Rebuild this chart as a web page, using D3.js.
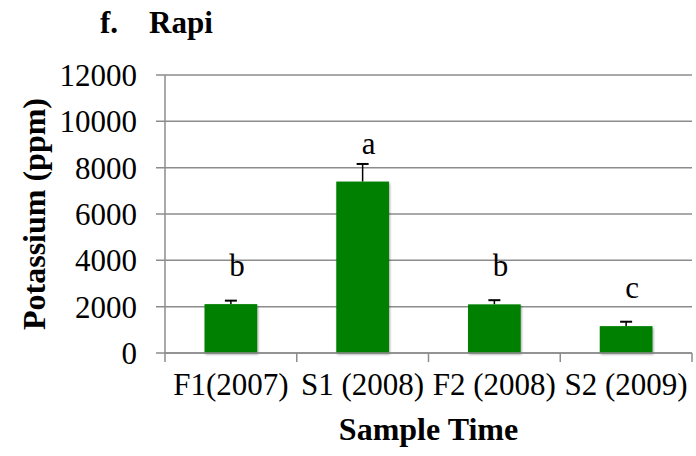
<!DOCTYPE html>
<html>
<head>
<meta charset="utf-8">
<script src="https://cdn.jsdelivr.net/npm/d3@7/dist/d3.min.js"></script>
<style>
  body { margin: 0; background: #fff; }
  text { font-family: 'Liberation Serif', 'Times New Roman', Times, 'DejaVu Serif', serif; }
</style>
</head>
<body>
<svg id="chart" width="696" height="456"></svg>
<script>
// chart data
const categories = ['F1(2007)', 'S1 (2008)', 'F2 (2008)', 'S2 (2009)'];
const potassium = [2110, 7400, 2100, 1160];
const errors = [150, 760, 180, 190];
const letters = ['b', 'a', 'b', 'c'];
const yTicks = [0, 2000, 4000, 6000, 8000, 10000, 12000];

const svg = d3.select('#chart');
const margin = { left: 165, right: 4, top: 75, bottom: 103 };
const width = 696 - margin.left - margin.right;
const height = 456 - margin.top - margin.bottom;
const gridColor = '#8c8c8c';
const serif = "'Liberation Serif', 'Times New Roman', Times, 'DejaVu Serif', serif";
const tickSize = 31;
const titleSize = 32;

const x = d3.scaleBand()
  .domain(categories)
  .range([0, width])
  .padding(0);

const y = d3.scaleLinear()
  .domain([0, 12000])
  .range([height, 0]);

// drop shadow like the office chart bars
const defs = svg.append('defs');
const shadow = defs.append('filter')
  .attr('id', 'shadow')
  .attr('x', '-10%').attr('y', '-10%')
  .attr('width', '130%').attr('height', '130%');
shadow.append('feDropShadow')
  .attr('dx', 1).attr('dy', 1.5)
  .attr('stdDeviation', 1.2)
  .attr('flood-color', '#000')
  .attr('flood-opacity', 0.35);

const g = svg.append('g')
  .attr('transform', `translate(${margin.left},${margin.top})`);

// gridlines
g.append('g')
  .selectAll('line')
  .data(yTicks)
  .join('line')
  .attr('x1', -9)
  .attr('x2', width)
  .attr('y1', d => y(d))
  .attr('y2', d => y(d))
  .attr('stroke', gridColor)
  .attr('stroke-width', 1.5);

// y axis line
g.append('line')
  .attr('x1', 0).attr('x2', 0)
  .attr('y1', 0).attr('y2', height)
  .attr('stroke', gridColor)
  .attr('stroke-width', 1.5);

// y tick labels
g.append('g')
  .selectAll('text')
  .data(yTicks)
  .join('text')
  .attr('x', -28)
  .attr('y', d => y(d))
  .attr('dy', '0.36em')
  .attr('text-anchor', 'end')
  .attr('font-family', serif)
  .attr('font-size', tickSize)
  .attr('fill', '#000')
  .text(d => d);

// x axis with ticks between categories
const xBounds = categories.map(c => x(c)).concat([width]);
g.append('g')
  .selectAll('line')
  .data(xBounds)
  .join('line')
  .attr('x1', d => d).attr('x2', d => d)
  .attr('y1', height).attr('y2', height + 9)
  .attr('stroke', gridColor)
  .attr('stroke-width', 1.5);

g.append('g')
  .selectAll('text')
  .data(categories)
  .join('text')
  .attr('x', d => x(d) + x.bandwidth() / 2)
  .attr('y', height + 42)
  .attr('text-anchor', 'middle')
  .attr('font-family', serif)
  .attr('font-size', tickSize)
  .attr('fill', '#000')
  .text(d => d);

// bars
const barWidth = x.bandwidth() * 0.4;
const rows = categories.map((c, i) => ({
  cat: c, value: potassium[i], err: errors[i], letter: letters[i],
}));

// error bars (upper half only, drawn before bars)
const errG = g.append('g')
  .selectAll('g')
  .data(rows)
  .join('g');
errG.append('line')
  .attr('x1', d => x(d.cat) + x.bandwidth() / 2)
  .attr('x2', d => x(d.cat) + x.bandwidth() / 2)
  .attr('y1', d => y(d.value))
  .attr('y2', d => y(d.value + d.err))
  .attr('stroke', '#000')
  .attr('stroke-width', 1.5);
errG.append('line')
  .attr('x1', d => x(d.cat) + x.bandwidth() / 2 - 6)
  .attr('x2', d => x(d.cat) + x.bandwidth() / 2 + 6)
  .attr('y1', d => y(d.value + d.err))
  .attr('y2', d => y(d.value + d.err))
  .attr('stroke', '#000')
  .attr('stroke-width', 2);

g.append('g')
  .selectAll('rect')
  .data(rows)
  .join('rect')
  .attr('x', d => x(d.cat) + (x.bandwidth() - barWidth) / 2)
  .attr('y', d => y(d.value))
  .attr('width', barWidth)
  .attr('height', d => height - y(d.value))
  .attr('fill', '#008000')
  .attr('filter', 'url(#shadow)');

// x axis line on top of bars
g.append('line')
  .attr('x1', 0).attr('x2', width)
  .attr('y1', height).attr('y2', height)
  .attr('stroke', gridColor)
  .attr('stroke-width', 1.5);

// significance letters
g.append('g')
  .selectAll('text')
  .data(rows)
  .join('text')
  .attr('x', d => x(d.cat) + x.bandwidth() / 2 + 6)
  .attr('y', d => y(d.value) - 28)
  .attr('text-anchor', 'middle')
  .attr('font-family', serif)
  .attr('font-size', tickSize)
  .attr('fill', '#000')
  .text(d => d.letter);

// titles
svg.append('text')
  .attr('x', 100)
  .attr('y', 33)
  .attr('font-family', serif)
  .attr('font-size', 31)
  .attr('font-weight', 'bold')
  .attr('xml:space', 'preserve')
  .text('f.    Rapi');

svg.append('text')
  .attr('x', margin.left + width / 2)
  .attr('y', 440)
  .attr('text-anchor', 'middle')
  .attr('font-family', serif)
  .attr('font-size', titleSize)
  .attr('font-weight', 'bold')
  .text('Sample Time');

svg.append('text')
  .attr('transform', `translate(45,${margin.top + height / 2}) rotate(-90)`)
  .attr('text-anchor', 'middle')
  .attr('font-family', serif)
  .attr('font-size', titleSize)
  .attr('font-weight', 'bold')
  .text('Potassium (ppm)');
</script>
</body>
</html>
